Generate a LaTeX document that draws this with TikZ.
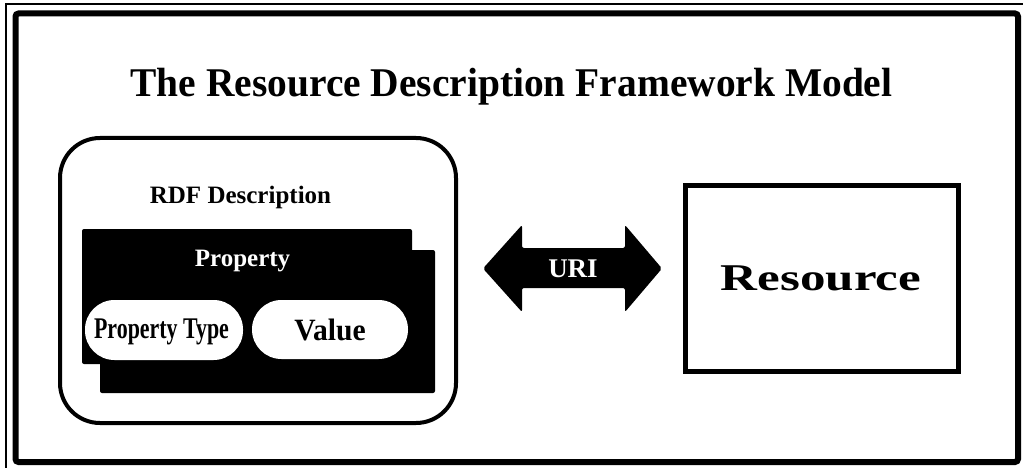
\documentclass[tikz,border=0pt]{standalone}
\usepackage{graphicx}
\usepackage{fontspec}
\setmainfont{Liberation Serif}
\begin{document}
\begin{tikzpicture}[x=1pt,y=-1pt,
  txt/.style={inner sep=0pt, anchor=base, font=\bfseries},
  blackbox/.style={fill=black, rounded corners=2pt, inner sep=0pt},
  pill/.style={fill=white, rounded corners=29.5pt, inner sep=0pt},
]
\useasboundingbox (0,0) rectangle (1023,468);
% frames
\draw[line width=2pt] (5.5,468) -- (5.5,4.5) -- (1023,4.5);
\draw[line width=6pt, rounded corners=3pt] (15.5,13.5) rectangle (1018,462);
% title
\node[txt] (title) at (511.5,97) {\fontsize{40.8}{48}\selectfont\scalebox{0.967}[1]{The Resource Description Framework Model}};
% RDF description container
\node[draw, line width=4pt, rounded corners=40pt, minimum width=396pt, minimum height=285pt, inner sep=0pt] (rdf) at (258,280.5) {};
\node[txt] (rdflabel) at (240.5,204) {\fontsize{25}{30}\selectfont RDF Description};
% property boxes
\node[blackbox, minimum width=335pt, minimum height=143pt] (propback) at (267.5,321.5) {};
\node[blackbox, minimum width=330pt, minimum height=135pt] (propfront) at (247,296.5) {};
\node[txt, text=white] (proplabel) at (242.5,266) {\fontsize{25}{30}\selectfont Property};
\node[pill, minimum width=158pt, minimum height=60pt] (ptype) at (164,330) {};
\node[pill, minimum width=156pt, minimum height=59pt] (pvalue) at (330,329.5) {};
\node[txt] (ptypelabel) at (161.5,338) {\fontsize{30}{36}\selectfont\scalebox{0.73}[1]{Property Type}};
\node[txt] (pvaluelabel) at (330,340) {\fontsize{31}{36}\selectfont\scalebox{0.955}[1]{Value}};
% double arrow
\fill[rounded corners=2pt] (483,268.5) -- (522,225) -- (522,248) -- (625,248) -- (625,225) -- (662,268.5) -- (625,312) -- (625,288) -- (522,288) -- (522,312) -- cycle;
\node[txt, text=white] (uri) at (573,277) {\fontsize{27}{32}\selectfont URI};
% resource
\node[draw, line width=5pt, minimum width=273pt, minimum height=186pt, inner sep=0pt] (res) at (822,278.5) {};
\node[txt] (reslabel) at (821,290) {\fontsize{37.8}{44}\selectfont\scalebox{1.35}[1]{Resource}};
\end{tikzpicture}
\end{document}
